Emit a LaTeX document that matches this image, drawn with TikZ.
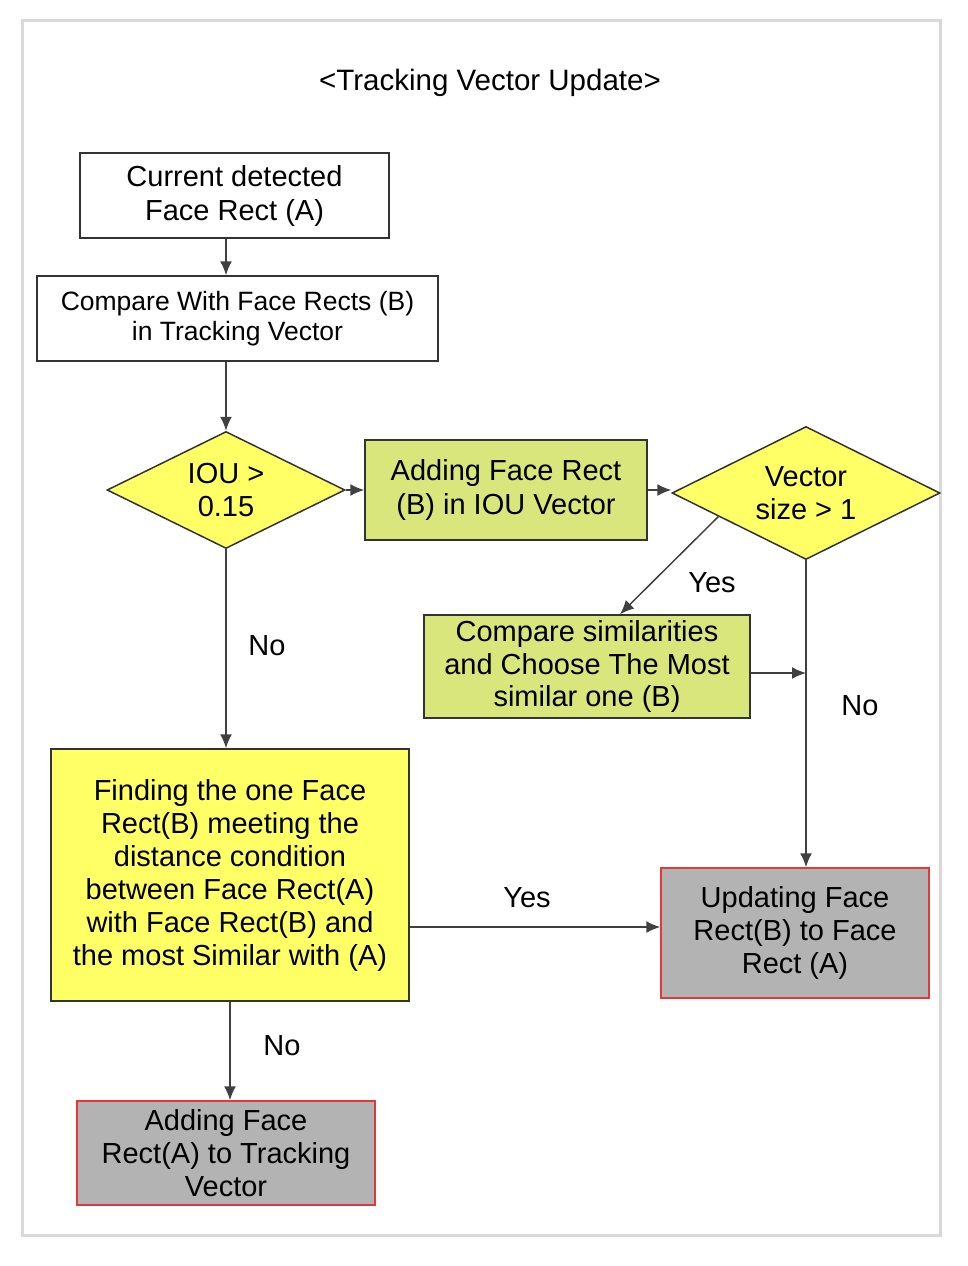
\documentclass[tikz,border=0pt]{standalone}
\usepackage{fontspec}
\setmainfont{Liberation Sans}
\usepackage{xcolor}
\usepackage{tikz}
\usetikzlibrary{calc,arrows.meta,shapes.geometric}
\definecolor{frame}{HTML}{D9D9D9}
\definecolor{edge}{HTML}{333333}
\definecolor{lime}{HTML}{D9E67B}
\definecolor{yel}{HTML}{FFFF66}
\definecolor{grayfill}{HTML}{B3B3B3}
\definecolor{redline}{HTML}{E03A3A}
\tikzset{
  lab/.style={text=black, font=\fontsize{29}{33}\selectfont},
  plainBox/.style={draw=edge, fill=white, line width=1.5pt, align=center, inner sep=0pt, font=\fontsize{29}{34}\selectfont},
  greenBox/.style={plainBox, fill=lime},
  yellowBox/.style={plainBox, fill=yel},
  grayBox/.style={plainBox, fill=grayfill, draw=redline},
  decision/.style={diamond, shape aspect=2, draw=edge, fill=yel, line width=1.5pt, align=center, inner sep=0pt, font=\fontsize{29}{33}\selectfont},
  conn/.style={draw=black!75, line width=1.5pt, -{Latex[length=14pt,width=12pt]}}
}
\begin{document}
\begin{tikzpicture}[x=1pt,y=-1pt]
\useasboundingbox (0,0) rectangle (968,1266);
\draw[frame, line width=3pt] (22,20) rectangle (940,1235);
\node[lab, font=\fontsize{29.5}{33}\selectfont] (title) at (490,83) {<Tracking Vector Update>};

\node[plainBox, minimum width=309pt, minimum height=85pt] (curA) at (234.5,195.5) {Current detected\\Face Rect (A)};
\node[plainBox, minimum width=401pt, minimum height=85pt, font=\fontsize{26.5}{30}\selectfont] (cmp) at (237.5,318.5) {Compare With Face Rects (B)\\in Tracking Vector};
\node[decision, minimum width=238pt, minimum height=117pt] (iou) at (226,490) {IOU >\\0.15};
\node[greenBox, minimum width=282pt, minimum height=100pt] (addIou) at (506,490) {Adding Face Rect\\(B) in IOU Vector};
\node[decision, minimum width=268pt, minimum height=133pt] (vec) at (806,493) {Vector\\size > 1};
\node[greenBox, minimum width=326pt, minimum height=103pt, font=\fontsize{29}{32.5}\selectfont] (sim) at (587,666.5) {Compare similarities\\and Choose The Most\\similar one (B)};
\node[yellowBox, minimum width=358pt, minimum height=252pt, font=\fontsize{29}{33}\selectfont] (find) at (230,875) {Finding the one Face\\Rect(B) meeting the\\distance condition\\between Face Rect(A)\\with Face Rect(B) and\\the most Similar with (A)};
\node[grayBox, minimum width=268pt, minimum height=130pt, font=\fontsize{29}{33}\selectfont] (upd) at (795,933) {Updating Face\\Rect(B) to Face\\Rect (A)};
\node[grayBox, minimum width=298pt, minimum height=104pt, font=\fontsize{29}{33}\selectfont] (addA) at (226,1153) {Adding Face\\Rect(A) to Tracking\\Vector};

% connectors
\draw[conn] (iou |- curA.south) -- (iou |- cmp.north);
\draw[conn] (iou |- cmp.south) -- (iou.north);
\draw[conn] (iou.east) -- (addIou.west);
\draw[conn] (addIou.east) -- (addIou.east -| vec.west);
\draw[conn] ($(vec.west)!0.35!(vec.south)$) -- ($(sim.north)+(33,0)$);
\draw[conn] (vec.south) -- (vec.south |- upd.north);
\draw[conn] ([yshift=-6.5pt]sim.east) -- ([yshift=-6.5pt]sim.east -| vec.south);
\draw[conn] (iou.south) -- (iou.south |- find.north);
\draw[conn] ([yshift=6pt]upd.west -| find.east) -- ([yshift=6pt]upd.west);
\draw[conn] (find.south) -- (find.south |- addA.north);

% labels
\node[lab] (yesVec) at (712,583) {Yes};
\node[lab] (noVec) at (860,706) {No};
\node[lab] (noIou) at (267,646) {No};
\node[lab] (yesFind) at (527,898) {Yes};
\node[lab] (noFind) at (282,1046) {No};
\end{tikzpicture}
\end{document}
